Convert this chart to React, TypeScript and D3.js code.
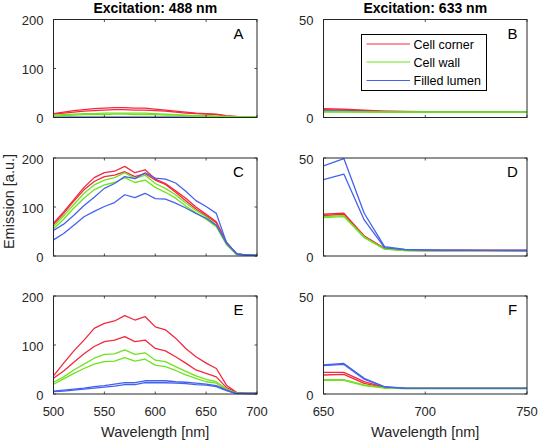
import React from "react";
import * as d3 from "d3";

// ---------- data ----------
const wl488 = [500, 510, 520, 530, 540, 550, 560, 570, 580, 590, 600, 610, 620, 630, 640, 650, 660, 670, 680, 690, 700];
const wl633 = [650, 660, 670, 680, 690, 700, 710, 720, 730, 740, 750];

const seriesNames = ["Cell corner", "Cell wall", "Filled lumen"];

// Panel A (488 nm)
const aRed1 = [8, 11, 14, 16, 18, 19, 20, 20, 19, 19, 17, 15, 13, 11, 9, 8, 7, 4, 2, 1, 1];
const aRed2 = [7, 9, 11, 13, 14, 15, 16, 16, 15, 15, 14, 13, 11, 9, 8, 7, 6, 3, 1, 1, 1];
const aGreen1 = [5, 6, 7, 8, 8, 9, 9, 9, 9, 9, 8, 7, 6, 5, 4, 4, 3, 2, 1, 1, 1];
const aGreen2 = [3, 4, 5, 6, 6, 6, 7, 7, 6, 6, 6, 5, 5, 4, 3, 3, 2, 1, 1, 1, 1];
const aBlue1 = [0.5, 0.5, 0.5, 0.5, 0.5, 0.5, 0.5, 0.5, 0.5, 0.5, 0.5, 0.5, 0.5, 0.5, 0.5, 0.5, 0.5, 0.5, 0.3, 0.3, 0.3];
const aBlue2 = [0.3, 0.3, 0.3, 0.3, 0.3, 0.3, 0.3, 0.3, 0.3, 0.3, 0.3, 0.3, 0.3, 0.3, 0.3, 0.3, 0.3, 0.3, 0.2, 0.2, 0.2];

// Panel C (488 nm)
const cRed1 = [67, 90, 115, 140, 160, 170, 173, 183, 170, 176, 157, 148, 133, 118, 100, 85, 70, 28, 4, 2, 1];
const cRed2 = [64, 87, 112, 135, 152, 162, 165, 172, 162, 168, 155, 146, 130, 113, 96, 82, 68, 27, 4, 2, 1];
const cGreen1 = [60, 82, 105, 128, 145, 155, 160, 170, 158, 165, 148, 138, 125, 108, 93, 80, 63, 25, 3, 2, 1];
const cGreen2 = [55, 75, 98, 118, 135, 145, 150, 160, 150, 155, 140, 130, 118, 102, 88, 75, 60, 23, 3, 2, 1];
const cBlue1 = [52, 65, 83, 103, 120, 138, 148, 162, 158, 170, 159, 157, 149, 132, 113, 101, 87, 27, 4, 2, 1];
const cBlue2 = [33, 46, 63, 80, 91, 101, 109, 125, 119, 128, 117, 116, 108, 98, 87, 77, 63, 26, 5, 2, 1];

// Panel E (488 nm)
const eRed1 = [37, 63, 88, 110, 134, 144, 149, 160, 151, 158, 137, 131, 114, 93, 76, 63, 52, 18, 3, 1, 1];
const eRed2 = [32, 47, 65, 82, 97, 107, 110, 117, 107, 110, 93, 88, 76, 63, 49, 42, 35, 13, 3, 1, 1];
const eGreen1 = [24, 35, 49, 61, 73, 81, 82, 90, 81, 84, 69, 66, 56, 46, 37, 30, 25, 10, 2, 1, 1];
const eGreen2 = [20, 31, 42, 52, 61, 66, 67, 74, 67, 71, 59, 56, 48, 39, 32, 25, 22, 8, 1, 1, 1];
const eBlue1 = [6, 8, 10, 12, 15, 17, 20, 23, 23, 27, 27, 27, 25, 24, 22, 20, 17, 8, 1, 1, 1];
const eBlue2 = [5, 6, 8, 10, 12, 14, 16, 19, 19, 23, 23, 23, 22, 21, 19, 18, 15, 7, 1, 1, 1];

// Panel B (633 nm)
const bRed1 = [4.5, 4.2, 3.7, 3.3, 3.1, 3.0, 3.0, 2.9, 2.9, 2.9, 2.8];
const bRed2 = [4.0, 3.8, 3.4, 3.1, 3.0, 2.9, 2.9, 2.8, 2.8, 2.8, 2.8];
const bGreen1 = [3.0, 3.0, 2.9, 2.8, 2.8, 2.8, 2.8, 2.8, 2.8, 2.8, 2.8];
const bGreen2 = [2.8, 2.8, 2.7, 2.7, 2.7, 2.7, 2.7, 2.7, 2.7, 2.7, 2.7];
const bBlue1 = [3.4, 3.3, 3.1, 3.0, 2.9, 2.9, 2.9, 2.9, 2.9, 2.8, 2.8];
const bBlue2 = [3.2, 3.1, 3.0, 2.9, 2.9, 2.9, 2.8, 2.8, 2.8, 2.8, 2.8];

// Panel D (633 nm)
const dRed1 = [21.3, 21.8, 10.2, 3.9, 2.9, 2.8, 2.8, 2.8, 2.8, 2.8, 2.8];
const dRed2 = [20.6, 21.3, 10.0, 3.8, 2.9, 2.8, 2.8, 2.8, 2.8, 2.8, 2.8];
const dGreen1 = [20.1, 20.6, 9.7, 3.6, 2.7, 2.7, 2.7, 2.7, 2.7, 2.7, 2.7];
const dGreen2 = [19.6, 20.1, 9.4, 3.5, 2.7, 2.7, 2.7, 2.7, 2.7, 2.7, 2.7];
const dBlue1 = [46, 49.7, 21.8, 4.8, 3.4, 3.1, 3.0, 3.0, 2.9, 2.9, 2.8];
const dBlue2 = [39, 41.8, 18.4, 4.3, 3.2, 3.0, 2.9, 2.9, 2.9, 2.8, 2.8];

// Panel F (633 nm)
const fRed1 = [11, 11, 6.3, 3.4, 2.9, 2.9, 2.9, 2.9, 2.9, 2.9, 2.9];
const fRed2 = [9.7, 10, 5.4, 3.2, 2.9, 2.9, 2.9, 2.9, 2.9, 2.9, 2.9];
const fGreen1 = [7.3, 7.3, 4.6, 3.1, 2.8, 2.8, 2.8, 2.8, 2.8, 2.8, 2.8];
const fGreen2 = [7.0, 7.0, 4.3, 3.0, 2.8, 2.8, 2.8, 2.8, 2.8, 2.8, 2.8];
const fBlue1 = [14.8, 15.6, 8.0, 3.7, 3.0, 2.9, 2.9, 2.9, 2.9, 2.9, 2.9];
const fBlue2 = [14.5, 15.1, 7.6, 3.6, 2.9, 2.9, 2.9, 2.9, 2.9, 2.9, 2.9];

const xTicks488 = [500, 550, 600, 650, 700];
const xTicks633 = [650, 700, 750];
const yTicks488 = [0, 100, 200];
const yTicks633 = [0, 50];

const titles = ["Excitation: 488 nm", "Excitation: 633 nm"];
const xLabel = "Wavelength [nm]";
const yLabel = "Emission [a.u.]";

// ---------- styling ----------
const COLORS = ["#f3283f", "#6fe21f", "#4462ec"];
const FONT = "Arial, 'Liberation Sans', Helvetica, sans-serif";
const TXT = "#262626";

const LEFT = { x0: 53.5, x1: 257 };
const RIGHT = { x0: 323.5, x1: 527 };
const ROWS = [19.5, 158, 296];
const H = 98;

type PanelDef = {
  letter: string;
  col: 0 | 1;
  row: number;
  series: number[][][]; // per color, list of lines
  order: number[];
};

const panels: PanelDef[] = [
  { letter: "A", col: 0, row: 0, series: [[aRed1, aRed2], [aGreen1, aGreen2], [aBlue1, aBlue2]], order: [2, 0, 1] },
  { letter: "B", col: 1, row: 0, series: [[bRed1, bRed2], [bGreen1, bGreen2], [bBlue1, bBlue2]], order: [0, 2, 1] },
  { letter: "C", col: 0, row: 1, series: [[cRed1, cRed2], [cGreen1, cGreen2], [cBlue1, cBlue2]], order: [0, 1, 2] },
  { letter: "D", col: 1, row: 1, series: [[dRed1, dRed2], [dGreen1, dGreen2], [dBlue1, dBlue2]], order: [0, 1, 2] },
  { letter: "E", col: 0, row: 2, series: [[eRed1, eRed2], [eGreen1, eGreen2], [eBlue1, eBlue2]], order: [0, 1, 2] },
  { letter: "F", col: 1, row: 2, series: [[fRed1, fRed2], [fGreen1, fGreen2], [fBlue1, fBlue2]], order: [0, 1, 2] },
];

function Panel({ p }: { p: PanelDef }) {
  const box = p.col === 0 ? LEFT : RIGHT;
  const top = ROWS[p.row];
  const bottom = top + H;
  const xs = p.col === 0 ? wl488 : wl633;
  const x = d3.scaleLinear().domain(p.col === 0 ? [500, 700] : [650, 750]).range([box.x0, box.x1]);
  const y = d3.scaleLinear().domain(p.col === 0 ? [0, 200] : [0, 50]).range([bottom, top]);
  const xTicks = p.col === 0 ? xTicks488 : xTicks633;
  const yTicks = p.col === 0 ? yTicks488 : yTicks633;
  const line = d3
    .line<number>()
    .x((_, i) => x(xs[i]))
    .y((v) => y(v));
  const clipId = `clip-${p.letter}`;
  const tl = 2.5;
  const showX = p.row === 2;
  return (
    <g>
      <defs>
        <clipPath id={clipId}>
          <rect x={box.x0} y={top - 1} width={box.x1 - box.x0} height={H + 1.5} />
        </clipPath>
      </defs>
      <g clipPath={`url(#${clipId})`}>
        {p.order.map((ci) =>
          p.series[ci].map((vals, li) => (
            <path
              key={`${ci}-${li}`}
              d={line(vals) || ""}
              fill="none"
              stroke={COLORS[ci]}
              strokeWidth={1.3}
              strokeLinejoin="round"
            />
          ))
        )}
      </g>
      {xTicks.map((t) => (
        <g key={`xt${t}`}>
          <line x1={x(t)} x2={x(t)} y1={bottom} y2={bottom - tl} stroke={TXT} strokeWidth={0.8} />
          <line x1={x(t)} x2={x(t)} y1={top} y2={top + tl} stroke={TXT} strokeWidth={0.8} />
          {showX && (
            <text x={x(t)} y={416} textAnchor="middle" fontSize={13} fill={TXT} fontFamily={FONT}>
              {t}
            </text>
          )}
        </g>
      ))}
      {yTicks.map((t) => (
        <g key={`yt${t}`}>
          <line x1={box.x0} x2={box.x0 + tl} y1={y(t)} y2={y(t)} stroke={TXT} strokeWidth={0.8} />
          <line x1={box.x1} x2={box.x1 - tl} y1={y(t)} y2={y(t)} stroke={TXT} strokeWidth={0.8} />
          <text x={box.x0 - 10} y={y(t) + 5.5} textAnchor="end" fontSize={13} fill={TXT} fontFamily={FONT}>
            {t}
          </text>
        </g>
      ))}
      <rect x={box.x0} y={top} width={box.x1 - box.x0} height={H} fill="none" stroke={TXT} strokeWidth={1} />
      <text
        x={box.x0 + (p.col === 0 ? 185 : 189)}
        y={top + 19}
        textAnchor="middle"
        fontSize={15}
        fill="#000"
        fontFamily={FONT}
      >
        {p.letter}
      </text>
      {showX && (
        <text
          x={(box.x0 + box.x1) / 2}
          y={436.5}
          textAnchor="middle"
          fontSize={14.5}
          fill={TXT}
          fontFamily={FONT}
        >
          {xLabel}
        </text>
      )}
      {p.row === 0 && (
        <text
          x={(box.x0 + box.x1) / 2}
          y={12.7}
          textAnchor="middle"
          fontSize={14}
          fontWeight="bold"
          fill="#000"
          fontFamily={FONT}
        >
          {titles[p.col]}
        </text>
      )}
    </g>
  );
}

function Legend() {
  const bx = 361.5;
  const by = 34.5;
  const bw = 125;
  const bh = 56;
  const rows = [44, 62, 80.5];
  return (
    <g>
      <rect x={bx} y={by} width={bw} height={bh} fill="#fff" stroke="#000" strokeWidth={1} />
      {seriesNames.map((n, i) => (
        <g key={n}>
          <line x1={366.5} x2={410} y1={rows[i]} y2={rows[i]} stroke={COLORS[i]} strokeWidth={1} />
          <text x={413.5} y={rows[i] + 4.5} fontSize={12.5} fill="#000" fontFamily={FONT}>
            {n}
          </text>
        </g>
      ))}
    </g>
  );
}

export default function App() {
  return (
    <svg
      width={540}
      height={444}
      style={{ position: "absolute", left: 0, top: 0, background: "#fff" }}
    >
      <rect x={0} y={0} width={540} height={444} fill="#fff" />
      {panels.map((p) => (
        <Panel key={p.letter} p={p} />
      ))}
      <Legend />
      <text
        transform="translate(13.5,201.5) rotate(-90)"
        textAnchor="middle"
        fontSize={14.5}
        fill={TXT}
        fontFamily={FONT}
      >
        {yLabel}
      </text>
    </svg>
  );
}
